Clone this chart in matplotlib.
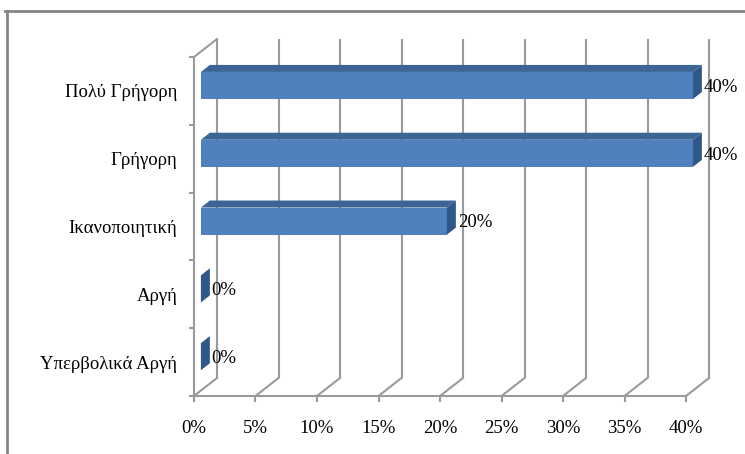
import matplotlib
matplotlib.use("Agg")
import matplotlib.pyplot as plt
from matplotlib.patches import Polygon
from matplotlib.lines import Line2D

# Survey answers, bottom row first
categories = ["Υπερβολικά Αργή", "Αργή", "Ικανοποιητική", "Γρήγορη", "Πολύ Γρήγορη"]
values = [0, 0, 20, 40, 40]
xticks = [0, 5, 10, 15, 20, 25, 30, 35, 40]

plt.rcParams["font.family"] = ["Liberation Serif", "DejaVu Serif"]

W, H = 745, 454
fig = plt.figure(figsize=(W / 100, H / 100), dpi=100)
fig.patch.set_facecolor("white")

# front plane of the 3-D box, in pixels
left_px, right_px, bottom_px, top_px = 194, 686, 396, 57
ax = fig.add_axes([left_px / W, (H - bottom_px) / H,
                   (right_px - left_px) / W, (bottom_px - top_px) / H])
ax.set_xlim(0, 40)
ax.set_ylim(-0.5, len(categories) - 0.5)
ax.set_facecolor("none")

GRID = "#9a9a9a"
LW = 1.5
FS = 13.5

# depth of the box (pixels -> data units)
depth_px = (23, 18)
ddx = depth_px[0] * 40 / (right_px - left_px)
ddy = depth_px[1] * len(categories) / (bottom_px - top_px)

y0, y1 = -0.5, len(categories) - 0.5

# back-wall gridlines and floor diagonals
for t in xticks:
    ax.plot([t + ddx, t + ddx], [y0 + ddy, y1 + ddy], color=GRID, lw=LW,
            clip_on=False, zorder=1, solid_capstyle="butt")
    ax.plot([t, t + ddx], [y0, y0 + ddy], color=GRID, lw=LW,
            clip_on=False, zorder=1)
# top edge of the side wall
ax.plot([0, ddx], [y1, y1 + ddy], color=GRID, lw=LW, clip_on=False, zorder=1)

# bars
FRONT = "#4f81bd"
TOP = "#3c6595"
SIDE = "#30578a"
f0, f1 = 0.30, 0.69
half = 0.2
for i, v in enumerate(values):
    xa = f0 * ddx
    xb = v + f0 * ddx
    yb = i - half + f0 * ddy
    yt = i + half + f0 * ddy
    bx = (f1 - f0) * ddx
    by = (f1 - f0) * ddy
    if v > 0:
        ax.add_patch(Polygon([(xa, yb), (xb, yb), (xb, yt), (xa, yt)],
                             closed=True, fc=FRONT, ec="none",
                             clip_on=False, zorder=3))
        ax.add_patch(Polygon([(xa, yt), (xb, yt), (xb + bx, yt + by), (xa + bx, yt + by)],
                             closed=True, fc=TOP, ec="none",
                             clip_on=False, zorder=3))
    ax.add_patch(Polygon([(xb, yb), (xb, yt), (xb + bx, yt + by), (xb + bx, yb + by)],
                         closed=True, fc=SIDE, ec="none",
                         clip_on=False, zorder=3))
    ax.text(v + f1 * ddx + 0.15, i + 0.2 * ddy, f"{v}%", ha="left", va="center",
            fontsize=FS, color="black", zorder=4)

# axes, ticks and labels
for s in ["top", "right"]:
    ax.spines[s].set_visible(False)
for s in ["left", "bottom"]:
    ax.spines[s].set_color(GRID)
    ax.spines[s].set_linewidth(LW)
    ax.spines[s].set_zorder(2)

ax.set_xticks(xticks)
ax.set_xticklabels([f"{t}%" for t in xticks])
ax.tick_params(axis="x", direction="out", length=4, width=LW, color=GRID,
               labelsize=FS, pad=13)

ax.set_yticks(range(len(categories)))
ax.set_yticklabels(categories)
ax.tick_params(axis="y", which="major", length=0, labelsize=FS, pad=12)
ax.set_yticks([k - 0.5 for k in range(len(categories) + 1)], minor=True)
ax.tick_params(axis="y", which="minor", direction="out", length=3.5,
               width=LW, color=GRID)

# outer chart frame (top and left edges)
fig.add_artist(Line2D([5 / W, 1], [1 - 10.5 / H, 1 - 10.5 / H],
                      transform=fig.transFigure, color="#858585", lw=2))
fig.add_artist(Line2D([7 / W, 7 / W], [0, 1 - 10.5 / H],
                      transform=fig.transFigure, color="#858585", lw=2))

fig.savefig("out.png", dpi=100)
